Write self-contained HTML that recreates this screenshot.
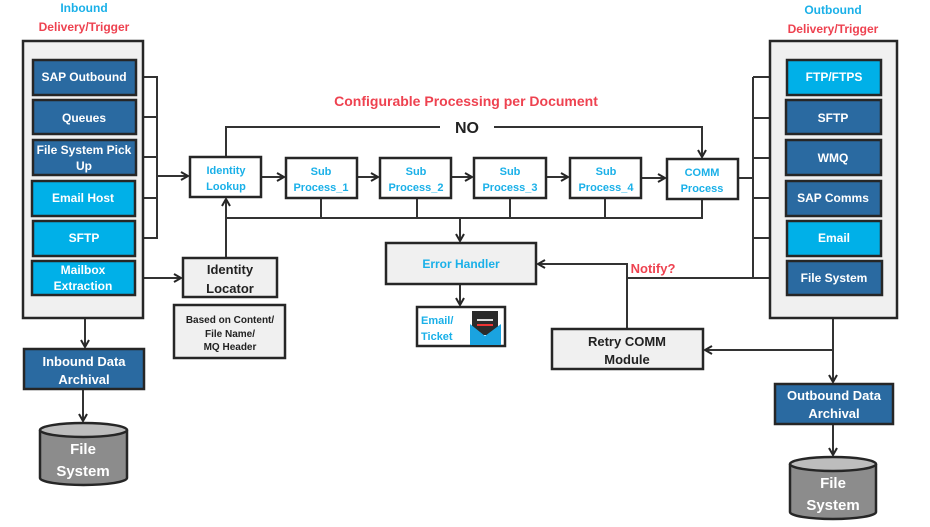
<!DOCTYPE html>
<html><head><meta charset="utf-8"><style>
html,body{margin:0;padding:0;background:#fff;}
svg{display:block;font-family:"Liberation Sans",Calibri,sans-serif;font-weight:bold;}
</style></head><body>
<svg width="930" height="527" viewBox="0 0 930 527" xmlns="http://www.w3.org/2000/svg">
<defs>
<marker id="a" markerWidth="10" markerHeight="10" refX="8" refY="5" orient="auto" markerUnits="userSpaceOnUse">
<path d="M1,1 L8,5 L1,9" fill="none" stroke="#262626" stroke-width="2"/></marker>
</defs>
<g fill="none" stroke="#333" stroke-width="2">
<!-- inbound bus -->
<path d="M136,77 H157 V238 H135 M136,117 H157 M136,157 H157 M135,198 H157"/>
<path d="M157,176 H188" marker-end="url(#a)"/>
<path d="M135,278 H181" marker-end="url(#a)"/>
<path d="M226,258 V199" marker-end="url(#a)"/>
<!-- main flow -->
<path d="M261,177 H284" marker-end="url(#a)"/>
<path d="M357,177 H378" marker-end="url(#a)"/>
<path d="M451,177 H472" marker-end="url(#a)"/>
<path d="M546,177 H568" marker-end="url(#a)"/>
<path d="M641,178 H665" marker-end="url(#a)"/>
<!-- NO loop -->
<path d="M226,157 V127 H440 M494,127 H702 V157" />
<path d="M702,150 V157" marker-end="url(#a)"/>
<!-- bottom bus -->
<path d="M226,218 H702 V199 M321,198 V218 M417,198 V218 M510,198 V218 M605,198 V218"/>
<path d="M460,218 V241" marker-end="url(#a)"/>
<path d="M460,284 V305" marker-end="url(#a)"/>
<!-- notify -->
<path d="M627,329 V264 H538" marker-end="url(#a)"/>
<path d="M627,278 H753"/>
<!-- outbound bus -->
<path d="M738,178 H753 M753,77 V278"/>
<path d="M753,77 H784" marker-end="url(#a)"/>
<path d="M753,118 H784" marker-end="url(#a)"/>
<path d="M753,158 H784" marker-end="url(#a)"/>
<path d="M753,198 H784" marker-end="url(#a)"/>
<path d="M753,238 H784" marker-end="url(#a)"/>
<path d="M753,278 H784" marker-end="url(#a)"/>
<!-- archival -->
<path d="M85,318 V347" marker-end="url(#a)"/>
<path d="M83,389 V421" marker-end="url(#a)"/>
<path d="M833,318 V382" marker-end="url(#a)"/>
<path d="M833,350 H705" marker-end="url(#a)"/>
<path d="M833,424 V455" marker-end="url(#a)"/>
</g>
<g stroke="#262626" stroke-width="2.5">
<rect x="23" y="41" width="120" height="277" fill="#f0f0f0"/>
<rect x="770" y="41" width="127" height="277" fill="#f0f0f0"/>
<rect x="33" y="60" width="103" height="35" fill="#2a6aa1"/>
<rect x="33" y="100" width="103" height="34" fill="#2a6aa1"/>
<rect x="33" y="140" width="103" height="35" fill="#2a6aa1"/>
<rect x="32" y="181" width="103" height="35" fill="#00b0e8"/>
<rect x="33" y="221" width="102" height="35" fill="#00b0e8"/>
<rect x="32" y="261" width="103" height="34" fill="#00b0e8"/>
<rect x="787" y="60" width="94" height="35" fill="#00b0e8"/>
<rect x="786" y="100" width="95" height="34" fill="#2a6aa1"/>
<rect x="786" y="140" width="95" height="35" fill="#2a6aa1"/>
<rect x="786" y="181" width="95" height="35" fill="#2a6aa1"/>
<rect x="787" y="221" width="94" height="35" fill="#00b0e8"/>
<rect x="787" y="261" width="95" height="34" fill="#2a6aa1"/>
<rect x="190" y="157" width="71" height="40" fill="#fff"/>
<rect x="286" y="158" width="71" height="40" fill="#fff"/>
<rect x="380" y="158" width="71" height="40" fill="#fff"/>
<rect x="474" y="158" width="72" height="40" fill="#fff"/>
<rect x="570" y="158" width="71" height="40" fill="#fff"/>
<rect x="667" y="159" width="71" height="40" fill="#fff"/>
<rect x="183" y="258" width="94" height="39" fill="#f0f0f0"/>
<rect x="174" y="305" width="111" height="53" fill="#f0f0f0"/>
<rect x="386" y="243" width="150" height="41" fill="#f0f0f0"/>
<rect x="417" y="307" width="88" height="39" fill="#fff"/>
<rect x="552" y="329" width="151" height="40" fill="#f0f0f0"/>
<rect x="24" y="349" width="120" height="40" fill="#2a6aa1"/>
<rect x="775" y="384" width="118" height="40" fill="#2a6aa1"/>
<path d="M40,430 V478 A43.5,7 0 0 0 127,478 V430" fill="#8c8c8c"/>
<ellipse cx="83.5" cy="430" rx="43.5" ry="7" fill="#bdbdbd"/>
<path d="M790,464 V512 A43,7 0 0 0 876,512 V464" fill="#8c8c8c"/>
<ellipse cx="833" cy="464" rx="43" ry="7" fill="#bdbdbd"/>
</g>
<!-- envelope icon -->
<rect x="472" y="311" width="26" height="24" fill="#2b2b2b"/>
<rect x="477" y="319" width="16" height="2" fill="#ddd"/>
<rect x="477" y="324" width="16" height="2" fill="#e33"/>
<path d="M470,324 L485,336 L501,324 V345 H470 Z" fill="#1aa3e0"/>
<g font-size="12" fill="#fff" text-anchor="middle">
<text x="84" y="81">SAP Outbound</text>
<text x="84" y="122">Queues</text>
<text x="84" y="154">File System Pick</text>
<text x="84" y="170">Up</text>
<text x="83" y="202">Email Host</text>
<text x="84" y="242">SFTP</text>
<text x="83" y="274">Mailbox</text>
<text x="83" y="290">Extraction</text>
<text x="834" y="81">FTP/FTPS</text>
<text x="833" y="122">SFTP</text>
<text x="833" y="162">WMQ</text>
<text x="833" y="202">SAP Comms</text>
<text x="834" y="242">Email</text>
<text x="834" y="282">File System</text>
<text x="84" y="366" font-size="13">Inbound Data</text>
<text x="84" y="384" font-size="13">Archival</text>
<text x="834" y="400" font-size="13">Outbound Data</text>
<text x="834" y="418" font-size="13">Archival</text>
<text x="83" y="454" font-size="15">File</text>
<text x="83" y="476" font-size="15">System</text>
<text x="833" y="488" font-size="15">File</text>
<text x="833" y="510" font-size="15">System</text>
</g>
<g font-size="11" fill="#1ab0e8" text-anchor="middle">
<text x="226" y="174">Identity</text><text x="226" y="190">Lookup</text>
<text x="321" y="175">Sub</text><text x="321" y="191">Process_1</text>
<text x="416" y="175">Sub</text><text x="416" y="191">Process_2</text>
<text x="510" y="175">Sub</text><text x="510" y="191">Process_3</text>
<text x="606" y="175">Sub</text><text x="606" y="191">Process_4</text>
<text x="702" y="176">COMM</text><text x="702" y="192">Process</text>
<text x="461" y="268" font-size="12">Error Handler</text>
<text x="421" y="324" text-anchor="start">Email/</text>
<text x="421" y="340" text-anchor="start">Ticket</text>
<text x="84" y="12" font-size="12">Inbound</text>
<text x="833" y="14" font-size="12">Outbound</text>
</g>
<g font-size="12" fill="#ee4250" text-anchor="middle">
<text x="84" y="31">Delivery/Trigger</text>
<text x="833" y="33">Delivery/Trigger</text>
<text x="466" y="106" font-size="14">Configurable Processing per Document</text>
<text x="653" y="273" font-size="13">Notify?</text>
</g>
<g fill="#222" text-anchor="middle">
<text x="467" y="133" font-size="16">NO</text>
<text x="230" y="274" font-size="13">Identity</text>
<text x="230" y="293" font-size="13">Locator</text>
<text x="230" y="323" font-size="10">Based on Content/</text>
<text x="230" y="337" font-size="10">File Name/</text>
<text x="230" y="350" font-size="10">MQ Header</text>
<text x="627" y="346" font-size="13">Retry COMM</text>
<text x="627" y="364" font-size="13">Module</text>
</g>
</svg>
</body></html>
